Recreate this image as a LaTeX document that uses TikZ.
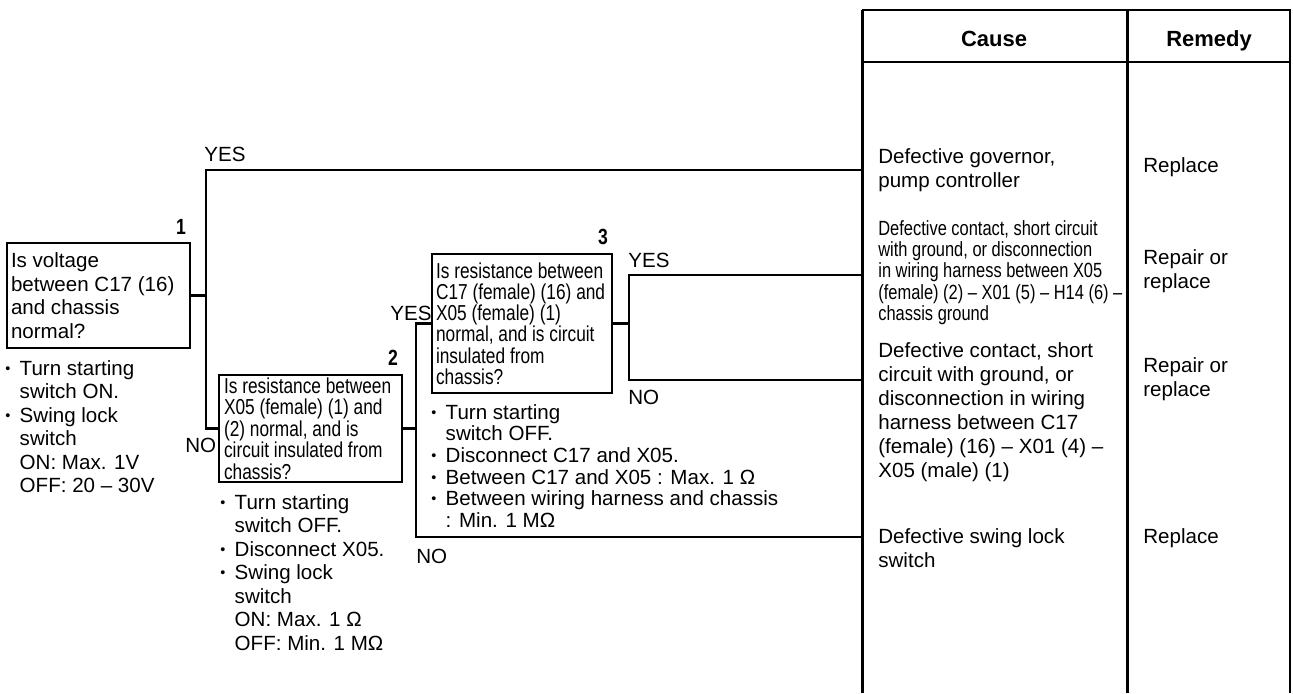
\documentclass[tikz,border=0pt]{standalone}
\usepackage{fontspec}
\setmainfont{Liberation Sans}
\newfontfamily\narrowfont{Liberation Sans}[FakeStretch=0.8]
\usetikzlibrary{positioning}
\newcommand{\bul}{\makebox[0.7em][l]{\raisebox{0.1em}{\scalebox{0.7}{\textbullet}}}}
\newcommand{\ind}{\hspace*{0.7em}}
\tikzset{
  qbox/.style={draw, line width=1.4pt, align=flush left, inner xsep=0.1cm, inner ysep=0pt,
    font=\narrowfont\fontsize{12.3}{12.3}\selectfont},
  qnum/.style={inner sep=0pt, font=\narrowfont\bfseries\fontsize{12.5}{12.5}\selectfont},
  note/.style={align=left, anchor=north west, inner sep=0pt, font=\fontsize{11.7}{13.4}\selectfont},
  cause/.style={align=left, anchor=west, inner sep=0pt, font=\fontsize{11.7}{13.7}\selectfont},
  yesno/.style={inner sep=0pt, anchor=base west, font=\fontsize{11.7}{13.4}\selectfont},
  head/.style={inner sep=0pt, anchor=base, font=\bfseries\fontsize{12.5}{14}\selectfont},
  wire/.style={line width=1.4pt},
  tabthick/.style={line width=1.7pt},
  tabthin/.style={line width=0.85pt},
}

\begin{document}
\begin{tikzpicture}[x=0.02cm, y=-0.02cm]
  \useasboundingbox (0,0) rectangle (1293,693);
  % table
  \draw[tabthin] (862,10) -- (1290,10) -- (1290,693);
  \draw[tabthin] (862,62) -- (1290,62);
  \draw[tabthick] (862,10) -- (862,693);
  \draw[tabthick] (1127,10) -- (1127,693);
  \node[head] (cause) at (994,46) {Cause};
  \node[head] (remedy) at (1209,46) {Remedy};
  % checks
  \node[qbox, text width=3.5cm, minimum height=2.1cm, inner xsep=0.08cm,
    font=\fontsize{11.7}{13.4}\selectfont] (box1) at (98.5,295.5)
    {Is voltage\\between C17 (16)\\and chassis\\normal?};
  \node[qbox, text width=3.46cm, minimum height=2.14cm] (box2) at (310.5,428.5)
    {Is resistance between\\X05 (female) (1) and\\(2) normal, and is\\circuit insulated from\\chassis?};
  \node[qbox, text width=3.44cm, inner xsep=0.08cm, minimum height=2.78cm,
    font=\narrowfont\fontsize{12.3}{12.1}\selectfont] (box3) at (522,323.5)
    {Is resistance between\\C17 (female) (16) and\\X05 (female) (1)\\normal, and is circuit\\insulated from\\chassis?};
  \node[qnum, above left=0.14cm and 0.1cm of box1.north east] (num1) {1};
  \node[qnum, above left=0.16cm and 0.1cm of box2.north east] (num2) {2};
  \node[qnum, above left=0.16cm and 0.1cm of box3.north east] (num3) {3};
  % conditions
  \node[note] (note1) at (5,360)
    {\bul Turn starting\\\ind switch ON.\\\bul Swing lock\\\ind switch\\\ind ON: Max. 1V\\\ind OFF: 20 – 30V};
  \node[note] (note2) at (220,494)
    {\bul Turn starting\\\ind switch OFF.\\\bul Disconnect X05.\\\bul Swing lock\\\ind switch\\\ind ON: Max. 1 Ω\\\ind OFF: Min. 1 MΩ};
  \node[note, font=\fontsize{11.7}{12.3}\selectfont] (note3) at (431,404)
    {\bul Turn starting\\\ind switch OFF.\\\bul Disconnect C17 and X05.\\\bul Between C17 and X05 : Max. 1 Ω\\\bul Between wiring harness and chassis\\\ind : Min. 1 MΩ};
  % causes and remedies
  \node[cause] (cause1) at (878,170) {Defective governor,\\pump controller};
  \node[cause, font=\narrowfont\fontsize{11.7}{12.1}\selectfont] (cause2) at (878,272.5)
    {Defective contact, short circuit\\with ground, or disconnection\\in wiring harness between X05\\(female) (2) – X01 (5) – H14 (6) –\\chassis ground};
  \node[cause] (cause3) at (878,412)
    {Defective contact, short\\circuit with ground, or\\disconnection in wiring\\harness between C17\\(female) (16) – X01 (4) –\\X05 (male) (1)};
  \node[cause] (cause4) at (878,548.5) {Defective swing lock\\switch};
  \node[cause] (rem1) at (1143,167) {Replace};
  \node[cause] (rem2) at (1143,271.5) {Repair or\\replace};
  \node[cause] (rem3) at (1143,379.5) {Repair or\\replace};
  \node[cause] (rem4) at (1143,538) {Replace};
  % branches
  \path (box1.east) ++(15,0) coordinate (j1);
  \path (box2.east) ++(13,0) coordinate (j2);
  \path (box3.east) ++(16,0) coordinate (j3);
  \coordinate (e1) at (862,170);
  \coordinate (e2) at (862,275);
  \coordinate (e3) at (862,380);
  \coordinate (e4) at (862,537);
  \draw[wire] (box1.east) -- (j1) |- (e1);
  \draw[wire] (j1) |- (box2.west);
  \draw[wire] (box2.east) -- (j2) |- (box3.west);
  \draw[wire] (j2) |- (e4);
  \draw[wire] (box3.east) -- (j3) |- (e2);
  \draw[wire] (j3) |- (e3);
  \node[yesno] (yes1) at (204,161) {YES};
  \node[yesno] (no1) at (185,452) {NO};
  \node[yesno] (yes2) at (390,320) {YES};
  \node[yesno] (no2) at (416,563) {NO};
  \node[yesno] (yes3) at (628,267) {YES};
  \node[yesno] (no3) at (628,404) {NO};
\end{tikzpicture}
\end{document}
